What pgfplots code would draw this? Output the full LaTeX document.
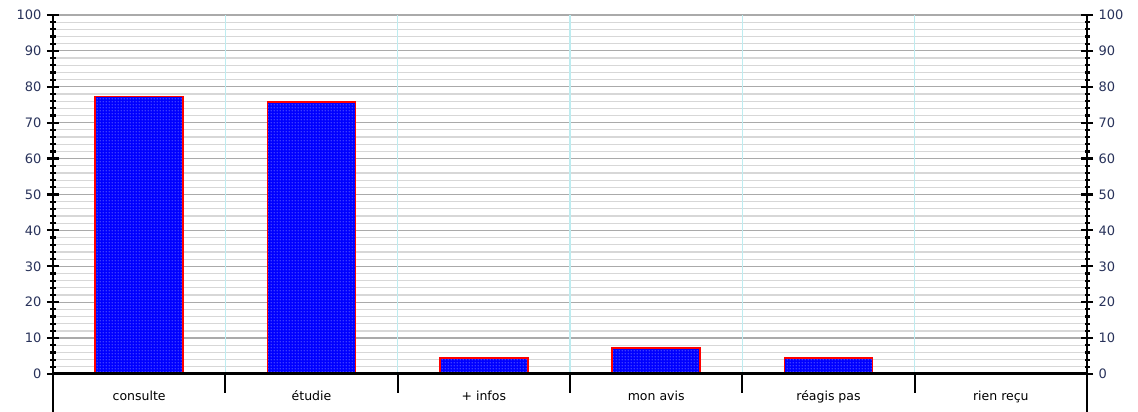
\documentclass[border=0pt]{standalone}
\usepackage{fontspec}
\setmainfont{DejaVu Sans}
\usepackage{pgfplots}
\pgfplotsset{compat=1.18}
\usetikzlibrary{patterns}
\pgfdeclarepatternformonly{smalldots}{\pgfpointorigin}{\pgfpoint{3pt}{3pt}}{\pgfpoint{3pt}{3pt}}{\pgfpathcircle{\pgfpoint{1.5pt}{1.5pt}}{0.65pt}\pgfusepath{fill}}
\definecolor{ylab}{RGB}{40,50,90}
\definecolor{majg}{RGB}{170,170,170}
\definecolor{ming}{RGB}{215,215,215}
\definecolor{vg}{RGB}{190,236,240}
\begin{document}
\begin{tikzpicture}
\begin{axis}[
  at={(0,0)}, anchor=south west,
  scale only axis, width=1034pt, height=359pt,
  xmin=-0.5, xmax=5.5, ymin=0, ymax=100,
  axis line style={draw=none},
  clip=false,
  xtick={0,1,2,3,4,5},
  xticklabels={consulte,étudie,+ infos,mon avis,réagis pas,rien reçu},
  xtick pos=bottom,
  major x tick style={draw=none},
  xticklabel style={font=\fontsize{12.5}{14}\selectfont, text=black, yshift=-1pt},
  ytick={0,10,...,100},
  minor y tick num=4,
  ytick pos=left,
  tick align=center,
  major tick length=12pt,
  minor tick length=5pt,
  every tick/.style={black, line width=2.2pt},
  yticklabel style={font=\fontsize{13}{15}\selectfont, text=ylab, xshift=-2pt},
  /pgf/number format/assume math mode=true,
  ymajorgrids, yminorgrids,
  major grid style={majg, line width=1.2pt},
  minor grid style={ming, line width=1.2pt},
  ybar, bar width=88pt,
]
\foreach \b in {0.5,1.5,2.5,3.5,4.5}{
  \edef\tmp{\noexpand\draw[vg, line width=1.2pt] (axis cs:\b,0) -- (axis cs:\b,100);
  \noexpand\draw[black, line width=2pt] (axis cs:\b,0) -- (axis cs:\b,-5.3);}
  \tmp
}
\addplot[draw=red, line width=1.6pt, preaction={fill=blue}, pattern=smalldots, pattern color=white]
  coordinates {(0,77.3) (1,75.7) (2,4.4) (3,7.2) (4,4.4) (5,0)};
\draw[black, line width=2.5pt] (axis cs:-0.5,100) -- (axis cs:-0.5,-10.6);
\draw[black, line width=2.5pt] (axis cs:5.5,100) -- (axis cs:5.5,-10.6);
\draw[black, line width=3pt] (axis cs:-0.5,0) -- (axis cs:5.5,0);
\end{axis}
\begin{axis}[
  at={(0,0)}, anchor=south west,
  scale only axis, width=1034pt, height=359pt,
  xmin=-0.5, xmax=5.5, ymin=0, ymax=100,
  axis line style={draw=none},
  xtick=\empty,
  ytick={0,10,...,100},
  minor y tick num=4,
  ytick pos=right, yticklabel pos=right,
  tick align=center,
  major tick length=12pt,
  minor tick length=5pt,
  every tick/.style={black, line width=2.2pt},
  yticklabel style={font=\fontsize{13}{15}\selectfont, text=ylab, xshift=2pt},
  /pgf/number format/assume math mode=true,
]
\end{axis}
\pgfresetboundingbox
\path (-53pt,-38pt) rectangle (1085pt,374pt);
\end{tikzpicture}
\end{document}
